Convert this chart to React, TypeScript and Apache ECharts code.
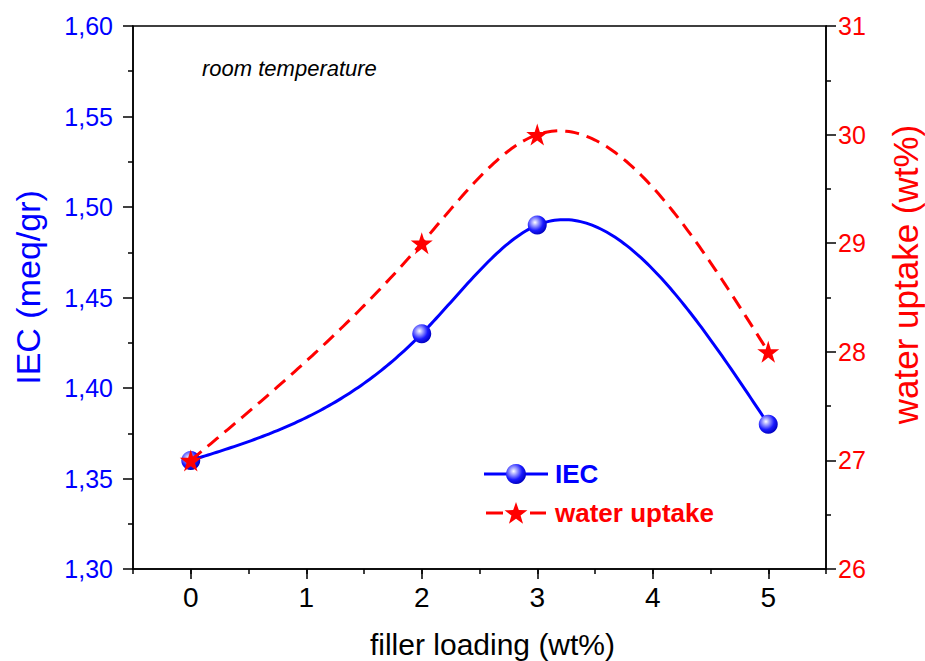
import React, { useEffect, useRef } from "react";
import * as echarts from "echarts";

const fillerLoading = [0, 2, 3, 5];
const iecValues = [1.36, 1.43, 1.49, 1.38];
const waterUptake = [27, 29, 30, 28];
const xTickValues = [0, 1, 2, 3, 4, 5];

const BLUE = "#0000ff";
const RED = "#ff0000";
const FONT = "'Liberation Sans', Arial, sans-serif";
const NARROW = "'Liberation Sans Narrow', 'Arial Narrow', 'Liberation Sans', sans-serif";

function naturalSpline(xs: number[], ys: number[]) {
  const n = xs.length;
  const h: number[] = [];
  for (let i = 0; i < n - 1; i++) h.push(xs[i + 1] - xs[i]);
  const M = new Array(n).fill(0);
  const m = n - 2;
  if (m > 0) {
    const a: number[] = [], b: number[] = [], c: number[] = [], d: number[] = [];
    for (let i = 1; i <= m; i++) {
      a.push(h[i - 1]);
      b.push(2 * (h[i - 1] + h[i]));
      c.push(h[i]);
      d.push(6 * ((ys[i + 1] - ys[i]) / h[i] - (ys[i] - ys[i - 1]) / h[i - 1]));
    }
    for (let i = 1; i < m; i++) {
      const w = a[i] / b[i - 1];
      b[i] -= w * c[i - 1];
      d[i] -= w * d[i - 1];
    }
    const sol = new Array(m).fill(0);
    sol[m - 1] = d[m - 1] / b[m - 1];
    for (let i = m - 2; i >= 0; i--) sol[i] = (d[i] - c[i] * sol[i + 1]) / b[i];
    for (let i = 0; i < m; i++) M[i + 1] = sol[i];
  }
  return (x: number) => {
    let i = 0;
    while (i < n - 2 && x > xs[i + 1]) i++;
    const hi = h[i];
    const t1 = xs[i + 1] - x;
    const t0 = x - xs[i];
    return (
      (M[i] * t1 * t1 * t1) / (6 * hi) +
      (M[i + 1] * t0 * t0 * t0) / (6 * hi) +
      (ys[i] / hi - (M[i] * hi) / 6) * t1 +
      (ys[i + 1] / hi - (M[i + 1] * hi) / 6) * t0
    );
  };
}

function splineSeries(xs: number[], ys: number[], yAxisIndex: number, color: string, dash: number[] | null, z: number) {
  const f = naturalSpline(xs, ys);
  return {
    type: "custom",
    xAxisIndex: 0,
    yAxisIndex,
    z,
    silent: true,
    data: xs.map((x, i) => [x, ys[i]]),
    encode: { x: 0, y: 1 },
    renderItem: (params: any, api: any) => {
      if (params.dataIndex !== 0) return { type: "group", children: [] };
      const pts: number[][] = [];
      const N = 200;
      const x0 = xs[0];
      const x1 = xs[xs.length - 1];
      for (let s = 0; s <= N; s++) {
        const x = x0 + ((x1 - x0) * s) / N;
        pts.push(api.coord([x, f(x)]));
      }
      return {
        type: "polyline",
        shape: { points: pts },
        style: { stroke: color, lineWidth: 3, fill: null, lineDash: dash || undefined },
      };
    },
  };
}

const STAR = "path://M50,0 L61.2,34.5 L97.6,34.5 L68.2,55.9 L79.4,90.5 L50,69.1 L20.6,90.5 L31.8,55.9 L2.4,34.5 L38.8,34.5 Z";

const sphere = {
  type: "radial",
  x: 0.38,
  y: 0.36,
  r: 0.66,
  colorStops: [
    { offset: 0, color: "#ffffff" },
    { offset: 0.22, color: "#b0b0ff" },
    { offset: 0.65, color: "#1a1aff" },
    { offset: 1, color: "#0000c0" },
  ],
};

function starPoints(cx: number, cy: number, R: number, r: number) {
  const pts: number[][] = [];
  for (let k = 0; k < 10; k++) {
    const ang = ((-90 + k * 36) * Math.PI) / 180;
    const rad = k % 2 === 0 ? R : r;
    pts.push([cx + rad * Math.cos(ang), cy + rad * Math.sin(ang)]);
  }
  return pts;
}

export default function App() {
  const ref = useRef<HTMLDivElement>(null);
  useEffect(() => {
    document.body.style.margin = "0";
    const chart = echarts.init(ref.current!, null, { renderer: "svg" });
    const option: any = {
      animation: false,
      backgroundColor: "#ffffff",
      grid: {
        left: 133,
        right: 99,
        top: 26,
        bottom: 92,
        containLabel: false,
        outerBoundsMode: "none",
        show: true,
        borderColor: "#000",
        borderWidth: 1.5,
        backgroundColor: "transparent",
      },
      xAxis: [
        {
          type: "value",
          min: -0.5,
          max: 5.5,
          position: "bottom",
          name: "filler loading (wt%)",
          nameLocation: "middle",
          nameGap: 60,
          nameTextStyle: { color: "#000", fontSize: 30, fontFamily: NARROW, padding: [0, 0, 0, 26] },
          axisLine: { show: true, onZero: false, lineStyle: { color: "#000", width: 1.5 } },
          axisTick: { show: true, inside: false, length: 10, customValues: xTickValues, lineStyle: { color: "#000", width: 1.5 } },
          axisLabel: {
            show: true,
            customValues: xTickValues,
            margin: 14,
            color: "#000",
            fontSize: 28,
            fontFamily: NARROW,
          },
          splitLine: { show: false },
        },
        {
          type: "value",
          min: -0.5,
          max: 5.5,
          interval: 0.5,
          position: "bottom",
          axisLine: { show: false, onZero: false },
          axisTick: { show: true, length: 5, lineStyle: { color: "#000", width: 1.5 } },
          axisLabel: { show: false },
          splitLine: { show: false },
        },
      ],
      yAxis: [
        {
          type: "value",
          min: 1.3,
          max: 1.6,
          interval: 0.05,
          position: "left",
          name: "IEC (meq/gr)",
          nameLocation: "middle",
          nameGap: 88,
          nameTextStyle: { color: BLUE, fontSize: 34, fontFamily: FONT, padding: [0, 0, 0, 20] },
          axisLine: { show: true, onZero: false, lineStyle: { color: "#000", width: 1.5 } },
          axisTick: { show: true, length: 10, lineStyle: { color: "#000", width: 1.5 } },
          minorTick: { show: true, splitNumber: 2, length: 5, lineStyle: { color: "#000", width: 1.5 } },
          axisLabel: {
            color: BLUE,
            fontSize: 25,
            fontFamily: FONT,
            margin: 20,
            formatter: (v: number) => v.toFixed(2).replace(".", ","),
          },
          splitLine: { show: false },
        },
        {
          type: "value",
          min: 26,
          max: 31,
          interval: 1,
          position: "right",
          name: "water uptake (wt%)",
          nameLocation: "middle",
          nameGap: 62,
          nameTextStyle: { color: RED, fontSize: 35, fontFamily: FONT, padding: [0, 0, 0, 46] },
          axisLine: { show: true, onZero: false, lineStyle: { color: "#000", width: 1.5 } },
          axisTick: { show: true, length: 10, lineStyle: { color: "#000", width: 1.5 } },
          minorTick: { show: true, splitNumber: 2, length: 5, lineStyle: { color: "#000", width: 1.5 } },
          axisLabel: { color: RED, fontSize: 25, fontFamily: FONT, margin: 12 },
          splitLine: { show: false },
        },
      ],
      series: [
        splineSeries(fillerLoading, iecValues, 0, BLUE, null, 2),
        {
          type: "scatter",
          name: "IEC",
          xAxisIndex: 0,
          yAxisIndex: 0,
          z: 3,
          symbol: "circle",
          symbolSize: 19,
          itemStyle: { color: sphere, opacity: 1 },
          data: fillerLoading.map((x, i) => [x, iecValues[i]]),
        },
        splineSeries(fillerLoading, waterUptake, 1, RED, [14, 8], 4),
        {
          type: "scatter",
          name: "water uptake",
          xAxisIndex: 0,
          yAxisIndex: 1,
          z: 5,
          symbol: STAR,
          symbolSize: 22,
          itemStyle: { color: RED, opacity: 1 },
          data: fillerLoading.map((x, i) => [x, waterUptake[i]]),
        },
      ],
      graphic: [
        {
          type: "text",
          x: 202,
          y: 68,
          style: { text: "room temperature", fill: "#000", font: `italic 22px ${FONT}`, verticalAlign: "middle" },
        },
        {
          type: "group",
          children: [
            { type: "line", shape: { x1: 484, y1: 474, x2: 548, y2: 474 }, style: { stroke: BLUE, lineWidth: 3 } },
            { type: "circle", shape: { cx: 516, cy: 474, r: 10 }, style: { fill: sphere } },
            {
              type: "text",
              x: 555,
              y: 474,
              style: { text: "IEC", fill: BLUE, font: `bold 26px ${FONT}`, verticalAlign: "middle" },
            },
            { type: "line", shape: { x1: 486, y1: 513, x2: 503, y2: 513 }, style: { stroke: RED, lineWidth: 3 } },
            { type: "line", shape: { x1: 530, y1: 513, x2: 546, y2: 513 }, style: { stroke: RED, lineWidth: 3 } },
            { type: "polygon", shape: { points: starPoints(516, 514, 12, 4.8) }, style: { fill: RED } },
            {
              type: "text",
              x: 555,
              y: 513,
              style: { text: "water uptake", fill: RED, font: `bold 26px ${FONT}`, verticalAlign: "middle" },
            },
          ],
        },
      ],
    };
    chart.setOption(option);
    return () => chart.dispose();
  }, []);
  return <div ref={ref} style={{ width: 925, height: 661 }} />;
}
